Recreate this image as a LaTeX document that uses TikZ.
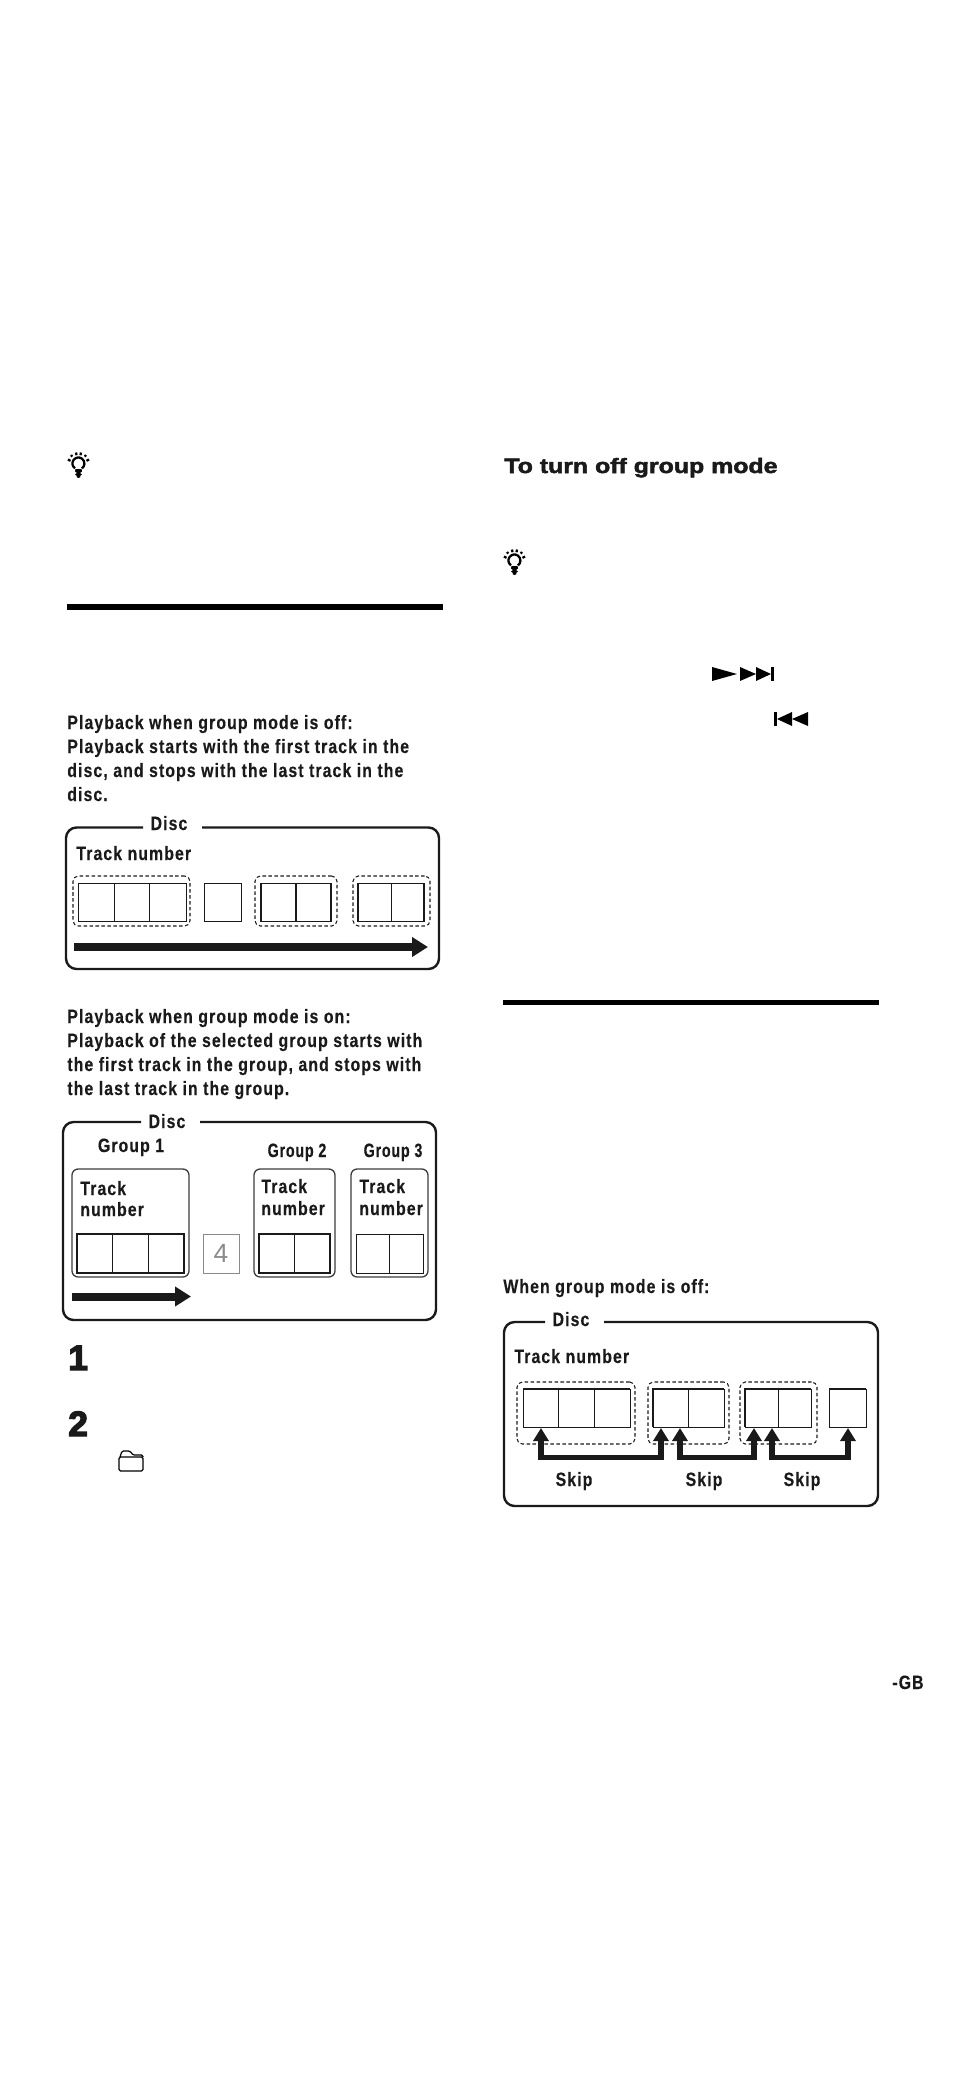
\documentclass[tikz,border=0pt]{standalone}
\usepackage{fontspec}
\setmainfont[FakeStretch=0.82,LetterSpace=5.6,FakeBold=0.3]{Liberation Sans}
\newfontfamily\narrowfont[FakeStretch=0.74,LetterSpace=4,FakeBold=0.3]{Liberation Sans}
\newfontfamily\headfont[FakeBold=2.5,FakeStretch=1.2]{Liberation Sans}
\newfontfamily\stepfont[FakeBold=4]{Liberation Sans}
\newfontfamily\thinfont{Liberation Sans}
\usetikzlibrary{arrows.meta, shapes.geometric, calc}
\definecolor{discblack}{HTML}{1A1A1A}
\definecolor{fourgray}{HTML}{8A8A8A}

\begin{document}
\begin{tikzpicture}[
  x=0.02cm, y=-0.02cm,
  every node/.style={font=\fontsize{11}{13}\selectfont\bfseries, text=discblack, inner sep=0pt},
  para/.style={anchor=base west},
  title/.style={anchor=base},
  narrowtitle/.style={anchor=base, font=\narrowfont\fontsize{11}{13}\selectfont\bfseries},
  discbox/.style={draw=discblack, line width=2.4pt*0.569, rounded corners=6pt},
  groupbox/.style={draw=discblack!85, line width=1.3pt*0.569, rounded corners=3.5pt},
  dashbox/.style={draw=discblack, dash pattern=on 2pt off 1.4pt, line width=0.6pt, rounded corners=3pt},
  cellbox/.style={draw=discblack, line width=0.5pt},
  heavycell/.style={draw=discblack, line width=0.85pt},
  rulebar/.style={fill=black},
  flow/.style={-{Triangle[length=16*0.569pt, width=19*0.569pt]}, line width=8*0.569pt, draw=discblack},
  skip/.style={{Triangle[length=13*0.569pt, width=15*0.569pt]}-{Triangle[length=13*0.569pt, width=15*0.569pt]},
               line width=5.5*0.569pt, draw=discblack},
  glyph/.style={fill=black},
]
\useasboundingbox (0,0) rectangle (954,2082);

% rules
\fill[rulebar] (67,604) rectangle (443,610);
\fill[rulebar] (503,1000) rectangle (879,1005);

% bulbs
\foreach \bx/\by/\bname in {78.5/464/one, 514.5/561/two}{
  \begin{scope}[shift={(\bx,\by)}]
    \coordinate (bulb\bname) at (0,0);
    \draw[line width=1.3pt] (-3.5,4.4) arc (125:415:6);
    \draw[line width=1.3pt] (-7.5,-9) -- (-6.2,-7.4);
    \draw[line width=1.3pt] (-2.5,-11.5) -- (-2,-8.8);
    \draw[line width=1.3pt] (2.5,-11.5) -- (2,-8.8);
    \draw[line width=1.3pt] (7.5,-9) -- (6.2,-7.4);
    \draw[line width=1.3pt] (-10.5,-4.5) -- (-8,-3.2);
    \draw[line width=1.3pt] (10.5,-4.5) -- (8,-3.2);
    \fill (-3,5) -- (3,5) -- (3.5,7.5) -- (1.5,9) -- (3.5,10.5) -- (1.5,12) -- (2,13) -- (0,14) -- (-2,13) -- (-1.5,12) -- (-3.5,10.5) -- (-1.5,9) -- (-3.5,7.5) -- cycle;
  \end{scope}
}

% left column, group mode off
\node[para] (offa) at (67,729) {Playback when group mode is off:};
\node[para] (offb) at (67,753) {Playback starts with the first track in the};
\node[para] (offc) at (67,777) {disc, and stops with the last track in the};
\node[para] (offd) at (67,801) {disc.};

\draw[discbox] (143,827.5) -- (66,827.5) -- (66,969) -- (439,969) -- (439,827.5) -- (202,827.5);
\node[title] (disca) at (169,830) {Disc};
\node[para] (trka) at (76,860) {Track number};

\node[dashbox, minimum width=117*0.569pt, minimum height=50*0.569pt] (dasha) at (131.5,901) {};
\node[dashbox, minimum width=82*0.569pt, minimum height=50*0.569pt] (dashb) at (296,901) {};
\node[dashbox, minimum width=77*0.569pt, minimum height=50*0.569pt] (dashc) at (391.5,901) {};

\draw[cellbox] (78,883.5) rectangle (186,921.5) (114,883.5) -- (114,921.5) (149,883.5) -- (149,921.5);
\draw[cellbox] (204,883.5) rectangle (241,921.5);
\draw[heavycell] (261,883.5) rectangle (331,921.5) (296,883.5) -- (296,921.5);
\draw[heavycell] (358,883.5) rectangle (424,921.5);
\draw[cellbox] (391,883.5) -- (391,921.5);

\coordinate (flowa) at (74,947);
\coordinate (flowb) at (428,947);
\draw[flow] (flowa) -- (flowb);

% left column, group mode on
\node[para] (ona) at (67,1023) {Playback when group mode is on:};
\node[para] (onb) at (67,1047) {Playback of the selected group starts with};
\node[para] (onc) at (67,1071) {the first track in the group, and stops with};
\node[para] (ond) at (67,1095) {the last track in the group.};

\draw[discbox] (141,1122) -- (63,1122) -- (63,1320) -- (436,1320) -- (436,1122) -- (200,1122);
\node[title] (discb) at (167,1128) {Disc};
\node[title] (groupa) at (131,1152) {Group 1};
\node[narrowtitle] (groupb) at (297,1157) {Group 2};
\node[narrowtitle] (groupc) at (393,1157) {Group 3};

\draw[groupbox] (72,1169) rectangle (189,1277);
\draw[groupbox] (254,1169) rectangle (335,1277);
\draw[groupbox] (351,1169) rectangle (428,1277);

\node[para] (trkb) at (80,1195) {Track};
\node[para] (numb) at (80,1216) {number};
\node[para] (trkc) at (261,1193) {Track};
\node[para] (numc) at (261,1215) {number};
\node[para] (trkd) at (359,1193) {Track};
\node[para] (numd) at (359,1215) {number};

\draw[heavycell] (77,1234) rectangle (184,1273);
\draw[cellbox] (112,1234) -- (112,1273) (148,1234) -- (148,1273);
\node[draw=fourgray, line width=0.5pt, minimum width=36*0.569pt, minimum height=39*0.569pt,
      text=fourgray, font=\thinfont\fontsize{15}{15}\selectfont] (four) at (221,1253.5) {4};
\draw[heavycell] (259,1234) rectangle (330,1273);
\draw[cellbox] (294,1234) -- (294,1273);
\draw[cellbox] (356,1234) rectangle (423,1273) (389,1234) -- (389,1273);

\coordinate (flowc) at (72,1296.5);
\coordinate (flowd) at (191,1296.5);
\draw[flow] (flowc) -- (flowd);

% step numbers and folder
\node[para, font=\stepfont\bfseries\fontsize{20}{20}\selectfont] (stepa) at (68,1370) {1};
\node[para, font=\stepfont\bfseries\fontsize{20}{20}\selectfont] (stepb) at (68,1436) {2};
\draw[line width=0.7pt, rounded corners=0.8pt] (119,1471) rectangle (143,1457);
\draw[line width=0.7pt, rounded corners=0.8pt] (120,1457) -- (122,1451) -- (130,1451) -- (133,1455) -- (143,1455) -- (143,1457);

% right column
\node[para, font=\headfont\bfseries\fontsize{11.8}{14}\selectfont] (turnoff) at (504,473) {To turn off group mode};

\fill[glyph] (712,667) -- (737,674) -- (712,681) -- cycle;
\fill[glyph] (740,667) -- (756,674) -- (740,681) -- cycle;
\fill[glyph] (756,667) -- (771,674) -- (756,681) -- cycle;
\fill[glyph] (771,667) rectangle (774,681);
\fill[glyph] (774,712) rectangle (777,726);
\fill[glyph] (792,712) -- (777,719) -- (792,726) -- cycle;
\fill[glyph] (808,712) -- (792,719) -- (808,726) -- cycle;

\node[para] (whenoff) at (503,1293) {When group mode is off:};

\draw[discbox] (545,1322) -- (504,1322) -- (504,1506) -- (878,1506) -- (878,1322) -- (604,1322);
\node[title] (discc) at (571,1326) {Disc};
\node[para] (trke) at (514,1363) {Track number};

\node[dashbox, minimum width=118*0.569pt, minimum height=62*0.569pt] (dashd) at (576,1413) {};
\node[dashbox, minimum width=81*0.569pt, minimum height=62*0.569pt] (dashe) at (688.5,1413) {};
\node[dashbox, minimum width=77*0.569pt, minimum height=62*0.569pt] (dashf) at (778.5,1413) {};

\draw[cellbox] (523,1389) rectangle (630,1427) (558,1389) -- (558,1427) (594,1389) -- (594,1427);
\draw[cellbox] (653,1389) rectangle (724,1427) (688,1389) -- (688,1427);
\draw[cellbox] (745,1389) rectangle (811,1427) (778,1389) -- (778,1427);
\draw[cellbox] (829,1389) rectangle (866,1427);
\draw[heavycell] (523,1389) -- (630,1389) (653,1427) -- (653,1389) -- (724,1389) (745,1427) -- (745,1389) -- (811,1389) (829,1389) -- (866,1389);

\coordinate (ska) at (541,1428);
\coordinate (skb) at (661,1428);
\coordinate (skc) at (680,1428);
\coordinate (skd) at (754,1428);
\coordinate (ske) at (772,1428);
\coordinate (skf) at (848,1428);
\draw[skip] (ska) -- (541,1457.5) -- (661,1457.5) -- (skb);
\draw[skip] (skc) -- (680,1457.5) -- (754,1457.5) -- (skd);
\draw[skip] (ske) -- (772,1457.5) -- (848,1457.5) -- (skf);
\node[title] (skipa) at (574,1486) {Skip};
\node[title] (skipb) at (704,1486) {Skip};
\node[title] (skipc) at (802,1486) {Skip};

\node[para] (pagegb) at (892,1689) {-GB};

\end{tikzpicture}
\end{document}
